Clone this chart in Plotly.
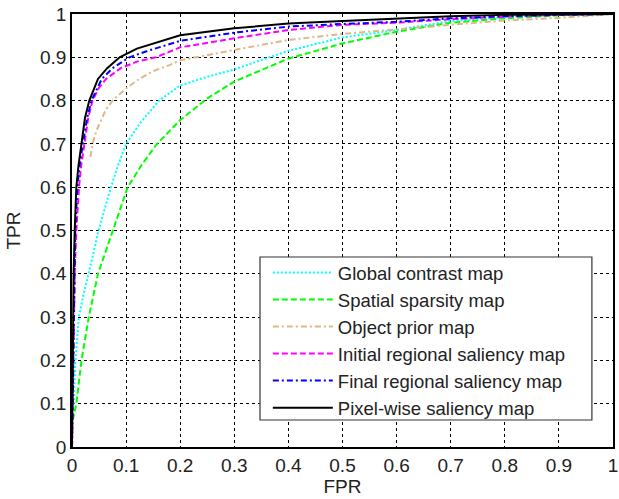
import plotly.graph_objects as go

# ---- data ----
series_names = ["Global contrast map", "Spatial sparsity map", "Object prior map",
                "Initial regional saliency map", "Final regional saliency map",
                "Pixel-wise saliency map"]

global_fpr = [0.002, 0.003, 0.0065, 0.0125, 0.021, 0.031, 0.04, 0.049, 0.06, 0.072, 0.085, 0.1,
              0.127, 0.161, 0.2, 0.25, 0.3, 0.4, 0.5, 0.6, 0.7, 0.8, 0.9, 1.0]
global_tpr = [0.09, 0.1, 0.2, 0.3, 0.35, 0.4, 0.45, 0.5, 0.55, 0.6, 0.65, 0.7,
              0.75, 0.8, 0.835, 0.855, 0.872, 0.915, 0.946, 0.963, 0.984, 0.993, 0.998, 1.0]

sparsity_fpr = [0.0015, 0.008, 0.0175, 0.031, 0.048, 0.062, 0.076, 0.09, 0.103, 0.128, 0.157,
                0.2, 0.25, 0.3, 0.4, 0.5, 0.6, 0.7, 0.8, 0.9, 1.0]
sparsity_tpr = [0.062, 0.1, 0.2, 0.3, 0.4, 0.45, 0.5, 0.55, 0.6, 0.65, 0.7,
                0.755, 0.805, 0.844, 0.897, 0.932, 0.959, 0.98, 0.99, 0.997, 1.0]

object_fpr = [0.034, 0.038, 0.045, 0.054, 0.063, 0.075, 0.1, 0.124, 0.15, 0.18, 0.2,
              0.3, 0.4, 0.5, 0.6, 0.7, 0.8, 0.9, 1.0]
object_tpr = [0.67, 0.7, 0.73, 0.755, 0.78, 0.8, 0.828, 0.85, 0.868, 0.882, 0.893,
              0.917, 0.94, 0.954, 0.965, 0.975, 0.985, 0.991, 1.0]

initial_fpr = [0.0, 0.002, 0.005, 0.008, 0.013, 0.017, 0.023, 0.03, 0.038, 0.05, 0.063, 0.09,
               0.12, 0.155, 0.2, 0.3, 0.4, 0.5, 0.6, 0.7, 0.8, 0.9, 1.0]
initial_tpr = [0.0, 0.15, 0.4, 0.5, 0.6, 0.65, 0.7, 0.76, 0.8, 0.83, 0.85, 0.875,
               0.89, 0.9, 0.923, 0.944, 0.963, 0.975, 0.98, 0.988, 0.994, 0.998, 1.0]

final_fpr = [0.0, 0.002, 0.004, 0.006, 0.01, 0.014, 0.02, 0.028, 0.036, 0.055, 0.075, 0.106,
             0.14, 0.2, 0.3, 0.4, 0.5, 0.6, 0.7, 0.8, 0.9, 1.0]
final_tpr = [0.0, 0.2, 0.4, 0.5, 0.6, 0.65, 0.7, 0.76, 0.8, 0.85, 0.875, 0.9,
             0.915, 0.938, 0.957, 0.971, 0.977, 0.982, 0.99, 0.995, 0.998, 1.0]

pixel_fpr = [0.0, 0.001, 0.003, 0.005, 0.008, 0.012, 0.017, 0.024, 0.032, 0.048, 0.065, 0.088,
             0.12, 0.16, 0.2, 0.3, 0.4, 0.5, 0.6, 0.7, 0.8, 0.9, 1.0]
pixel_tpr = [0.0, 0.2, 0.4, 0.5, 0.6, 0.65, 0.7, 0.76, 0.8, 0.85, 0.875, 0.9,
             0.92, 0.935, 0.951, 0.967, 0.978, 0.984, 0.99, 0.995, 0.998, 0.999, 1.0]

tick_vals = [0, 0.1, 0.2, 0.3, 0.4, 0.5, 0.6, 0.7, 0.8, 0.9, 1]
tick_text = ["0", "0.1", "0.2", "0.3", "0.4", "0.5", "0.6", "0.7", "0.8", "0.9", "1"]

# ---- styles ----
colors = ["#00FFFF", "#00FF00", "#DEB887", "#FF00FF", "#0000FF", "#000000"]
dashes = ["2px,2px", "6px,3px", "6px,3px,2px,3px", "6px,3px", "6px,3px,2px,3px", "solid"]
xs = [global_fpr, sparsity_fpr, object_fpr, initial_fpr, final_fpr, pixel_fpr]
ys = [global_tpr, sparsity_tpr, object_tpr, initial_tpr, final_tpr, pixel_tpr]

fig = go.Figure()
for i, name in enumerate(series_names):
    fig.add_trace(go.Scatter(
        x=xs[i], y=ys[i], mode="lines", name=name,
        line=dict(color=colors[i], width=2, dash=dashes[i]),
    ))

font_family = "Liberation Sans, Arial, sans-serif"
axis_common = dict(
    range=[0, 1], tickvals=tick_vals, ticktext=tick_text,
    showgrid=True, gridcolor="#000000", gridwidth=1, griddash="3px,3px",
    showline=True, linecolor="#000000", linewidth=1.5, mirror=True,
    zeroline=False, ticks="", automargin=False,
    tickfont=dict(family=font_family, size=19, color="#222222"),
)

# legend frame (white box drawn above the grid and curves)
fig.add_shape(type="rect", xref="paper", yref="paper",
              x0=0.3475, x1=0.961, y0=0.0624, y1=0.4388,
              fillcolor="white", line=dict(color="#333333", width=1.2), layer="above")

fig.update_layout(
    width=619, height=499,
    margin=dict(l=72, r=6, t=14, b=52),
    paper_bgcolor="white", plot_bgcolor="white",
    font=dict(family=font_family, color="#222222"),
    showlegend=True,
    legend=dict(
        x=0.362, y=0.446, xanchor="left", yanchor="top",
        bgcolor="rgba(0,0,0,0)", borderwidth=0,
        font=dict(family=font_family, size=18.5, color="#222222"),
        itemwidth=60,
    ),
    xaxis=dict(axis_common, title=dict(text="FPR", font=dict(size=19), standoff=4)),
    yaxis=dict(axis_common, title=dict(text="TPR", font=dict(size=19), standoff=14)),
)

fig.write_html("out.html", config={"displayModeBar": False},
               post_script="document.body.style.margin='0px';")
